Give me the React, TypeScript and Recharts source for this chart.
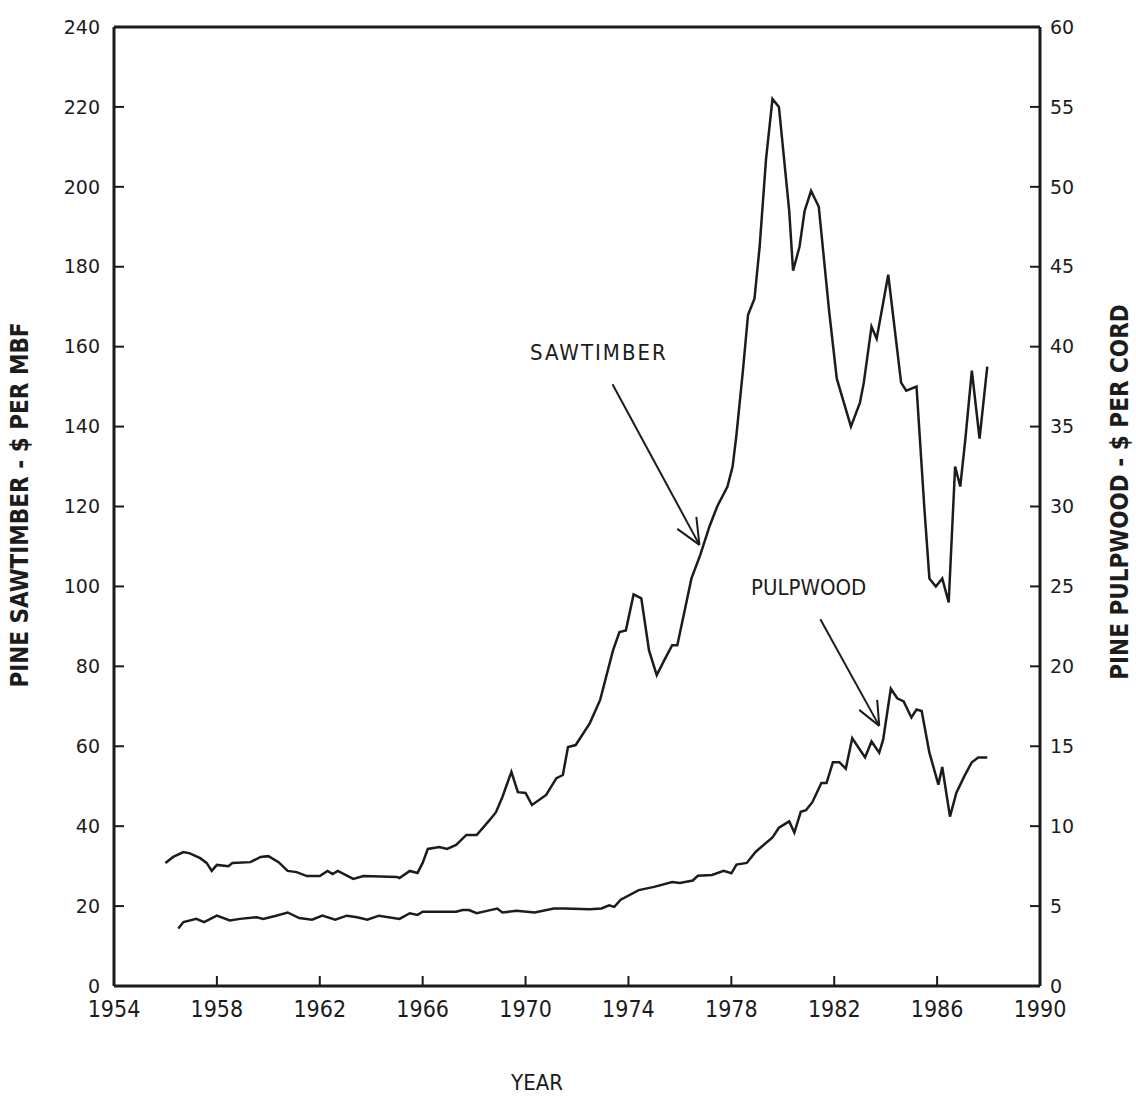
import React from "react";
import { LineChart, Line, XAxis, YAxis, ReferenceLine } from "recharts";

// Pine stumpage prices (irregular quarterly points).
const SAW_YEARS = [
  1956.0, 1956.3, 1956.7, 1956.95, 1957.35, 1957.6, 1957.8, 1958.0, 1958.45, 1958.6,
  1959.3, 1959.7, 1960.0, 1960.4, 1960.75, 1961.1, 1961.5, 1962.0, 1962.3, 1962.5,
  1962.7, 1963.3, 1963.7, 1965.0, 1965.1, 1965.5, 1965.8, 1966.0, 1966.2, 1966.65,
  1966.95, 1967.3, 1967.7, 1968.1, 1968.6, 1968.85, 1969.1, 1969.45, 1969.7, 1970.0,
  1970.25, 1970.8, 1971.2, 1971.45, 1971.65, 1971.95, 1972.5, 1972.9, 1973.4, 1973.65,
  1973.9, 1974.2, 1974.5, 1974.8, 1975.1, 1975.4, 1975.7, 1975.9, 1976.45, 1976.8,
  1977.15, 1977.45, 1977.85, 1978.05, 1978.2, 1978.45, 1978.65, 1978.9, 1979.1, 1979.35,
  1979.6, 1979.85, 1980.25, 1980.4, 1980.65, 1980.85, 1981.1, 1981.4, 1981.8, 1982.1,
  1982.65, 1983.0, 1983.15, 1983.45, 1983.65, 1984.1, 1984.6, 1984.8, 1985.2, 1985.3,
  1985.5, 1985.7, 1985.95, 1986.2, 1986.45, 1986.7, 1986.9, 1987.1, 1987.35, 1987.65,
  1987.95,
];
const SAW_VALUES = [
  30.8, 32.3, 33.5, 33.2, 32.0, 30.8, 28.8, 30.3, 30.0, 30.8,
  31.0, 32.3, 32.5, 31.0, 28.8, 28.5, 27.5, 27.5, 28.8, 28.0,
  28.8, 26.8, 27.5, 27.3, 27.0, 28.8, 28.3, 30.8, 34.3, 34.8,
  34.3, 35.3, 37.8, 37.8, 41.5, 43.5, 47.3, 53.6, 48.5, 48.3,
  45.3, 47.8, 52.0, 52.8, 59.8, 60.3, 65.8, 71.6, 84.0, 88.6,
  89.0, 98.0, 97.0, 84.0, 77.8, 81.6, 85.3, 85.3, 102, 108,
  115, 120, 125, 130, 138, 154, 168, 172, 185, 207,
  222, 220, 194, 179, 185, 194, 199, 195, 169, 152,
  140, 146, 151, 165, 162, 178, 151, 149, 150, 140,
  120, 102, 100, 102, 96, 130, 125, 137, 154, 137,
  155,
];

const PULP_YEARS = [
  1956.5, 1956.7, 1957.2, 1957.5, 1958.0, 1958.5, 1958.9, 1959.55, 1959.8, 1960.3,
  1960.75, 1961.2, 1961.7, 1962.1, 1962.6, 1963.05, 1963.45, 1963.85, 1964.3, 1965.1,
  1965.5, 1965.8, 1966.0, 1967.3, 1967.55, 1967.8, 1968.1, 1968.5, 1968.9, 1969.1,
  1969.65, 1970.35, 1971.1, 1971.5, 1972.5, 1972.95, 1973.25, 1973.45, 1973.7, 1974.4,
  1975.0, 1975.7, 1976.0, 1976.5, 1976.7, 1977.25, 1977.7, 1978.0, 1978.2, 1978.6,
  1978.95, 1979.6, 1979.85, 1980.25, 1980.45, 1980.7, 1980.9, 1981.15, 1981.5, 1981.7,
  1981.95, 1982.2, 1982.45, 1982.7, 1983.2, 1983.45, 1983.75, 1983.9, 1984.2, 1984.45,
  1984.7, 1985.0, 1985.2, 1985.4, 1985.7, 1986.05, 1986.2, 1986.5, 1986.75, 1987.05,
  1987.35, 1987.6, 1987.95,
];
const PULP_VALUES = [
  3.6, 4.0, 4.2, 4.0, 4.4, 4.1, 4.2, 4.3, 4.2, 4.4,
  4.6, 4.25, 4.15, 4.4, 4.15, 4.4, 4.3, 4.15, 4.4, 4.2,
  4.55, 4.45, 4.65, 4.65, 4.75, 4.75, 4.55, 4.7, 4.85, 4.6,
  4.7, 4.6, 4.85, 4.85, 4.8, 4.85, 5.05, 4.95, 5.4, 6.0,
  6.2, 6.5, 6.45, 6.6, 6.9, 6.95, 7.2, 7.05, 7.6, 7.7,
  8.4, 9.3, 9.9, 10.3, 9.6, 10.9, 11.0, 11.5, 12.7, 12.7,
  14.0, 14.0, 13.6, 15.5, 14.3, 15.3, 14.6, 15.4, 18.6, 18.0,
  17.8, 16.8, 17.3, 17.2, 14.6, 12.6, 13.7, 10.6, 12.1, 13.1,
  14.0, 14.3, 14.3,
];

const X_TICKS = [1954, 1958, 1962, 1966, 1970, 1974, 1978, 1982, 1986, 1990];
const LEFT_TICKS = [0, 20, 40, 60, 80, 100, 120, 140, 160, 180, 200, 220, 240];
const RIGHT_TICKS = [0, 5, 10, 15, 20, 25, 30, 35, 40, 45, 50, 55, 60];

// annotation arrows, in (year, sawtimber $) coordinates
const SAW_ARROW = { from: [1973.38, 150.6], to: [1976.76, 110.4], barbs: [[1975.9, 114.4], [1976.64, 117.4]] };
const PULP_ARROW = { from: [1981.46, 91.8], to: [1983.75, 65.1], barbs: [[1982.97, 69.1], [1983.67, 71.6]] };

const sawData = SAW_YEARS.map((year, i) => ({ year, saw: SAW_VALUES[i] }));
const pulpData = PULP_YEARS.map((year, i) => ({ year, pulp: PULP_VALUES[i] }));

const INK = "#1c1c1c";
const NARROW = "'Liberation Sans Narrow', 'DejaVu Sans Condensed', sans-serif";
const WIDE = "'DejaVu Sans', sans-serif";

function arrowLines(a: typeof SAW_ARROW, key: string) {
  const segs = [
    [a.from, a.to],
    [a.barbs[0], a.to],
    [a.barbs[1], a.to],
  ];
  return segs.map(([p, q], i) => (
    <ReferenceLine
      key={`${key}-${i}`}
      yAxisId="left"
      segment={[{ x: p[0], y: p[1] }, { x: q[0], y: q[1] }]}
      stroke={INK}
      strokeWidth={2}
      ifOverflow="visible"
    />
  ));
}

const overlay: React.CSSProperties = {
  position: "absolute",
  color: INK,
  whiteSpace: "nowrap",
  lineHeight: 1,
};

export default function App() {
  return (
    <div style={{ position: "absolute", left: 0, top: 0, width: 1136, height: 1097, background: "#fff" }}>
      <LineChart width={1136} height={1097} margin={{ top: 27, right: 26, bottom: 71, left: 34 }}>
        <XAxis
          type="number"
          dataKey="year"
          domain={[1954, 1990]}
          ticks={X_TICKS}
          interval={0}
          height={40}
          tickSize={-10}
          tickMargin={25}
          axisLine={{ stroke: INK, strokeWidth: 3 }}
          tickLine={{ stroke: INK, strokeWidth: 2 }}
          tick={{ fill: INK, fontSize: 23, fontFamily: NARROW }}
        />
        <YAxis
          yAxisId="left"
          orientation="left"
          domain={[0, 240]}
          ticks={LEFT_TICKS}
          interval={0}
          width={80}
          tickSize={-10}
          tickMargin={24}
          axisLine={{ stroke: INK, strokeWidth: 3 }}
          tickLine={{ stroke: INK, strokeWidth: 2 }}
          tick={{ fill: INK, fontSize: 19, fontFamily: WIDE }}
        />
        <YAxis
          yAxisId="right"
          orientation="right"
          domain={[0, 60]}
          ticks={RIGHT_TICKS}
          interval={0}
          width={70}
          tickSize={-10}
          tickMargin={20}
          axisLine={{ stroke: INK, strokeWidth: 3 }}
          tickLine={{ stroke: INK, strokeWidth: 2 }}
          tick={{ fill: INK, fontSize: 19, fontFamily: WIDE }}
        />
        <ReferenceLine yAxisId="left" y={240} stroke={INK} strokeWidth={3} />
        <Line
          yAxisId="left"
          data={sawData}
          dataKey="saw"
          type="linear"
          stroke={INK}
          strokeWidth={2.5}
          dot={false}
          isAnimationActive={false}
        />
        <Line
          yAxisId="right"
          data={pulpData}
          dataKey="pulp"
          type="linear"
          stroke={INK}
          strokeWidth={2.5}
          dot={false}
          isAnimationActive={false}
        />
        {arrowLines(SAW_ARROW, "saw")}
        {arrowLines(PULP_ARROW, "pulp")}
      </LineChart>

      <div style={{ ...overlay, left: 530, top: 342, fontSize: 22, letterSpacing: 2, fontFamily: NARROW }}>SAWTIMBER</div>
      <div style={{ ...overlay, left: 751, top: 577, fontSize: 22, fontFamily: NARROW }}>PULPWOOD</div>
      <div style={{ ...overlay, left: 537, top: 1083, fontSize: 22, fontFamily: NARROW, transform: "translate(-50%, -50%)" }}>
        YEAR
      </div>
      <div
        style={{
          ...overlay,
          left: 20,
          top: 505,
          fontSize: 24,
          fontWeight: "bold",
          fontFamily: NARROW,
          transform: "translate(-50%, -50%) rotate(-90deg)",
        }}
      >
        PINE SAWTIMBER - $ PER MBF
      </div>
      <div
        style={{
          ...overlay,
          left: 1120,
          top: 492,
          fontSize: 24,
          fontWeight: "bold",
          fontFamily: NARROW,
          transform: "translate(-50%, -50%) rotate(-90deg)",
        }}
      >
        PINE PULPWOOD - $ PER CORD
      </div>
    </div>
  );
}
